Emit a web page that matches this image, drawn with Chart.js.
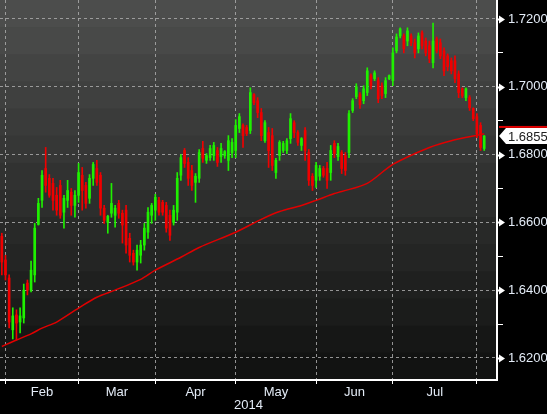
<!DOCTYPE html>
<html>
<head>
<meta charset="utf-8">
<script src="https://cdn.jsdelivr.net/npm/chart.js"></script>
<style>
  html, body { margin: 0; padding: 0; background: #000; }
  #wrap { width: 547px; height: 414px; }
</style>
</head>
<body>
<div id="wrap"><canvas id="c" width="547" height="414"></canvas></div>
<script>
  "use strict";

  // daily bars, 31 Jan 2014 .. 5 Aug 2014 (index = trading day)
  const opens = [
    1.6559, 1.6489, 1.6436, 1.6283, 1.6327, 1.6306, 1.6318, 1.6421, 1.6400, 1.6445,
    1.6594, 1.6665, 1.6759, 1.6730, 1.6715, 1.6680, 1.6709, 1.6630, 1.6665, 1.6689,
    1.6650, 1.6680, 1.6739, 1.6709, 1.6671, 1.6730, 1.6759, 1.6739, 1.6642, 1.6600,
    1.6627, 1.6621, 1.6656, 1.6627, 1.6636, 1.6553, 1.6509, 1.6483, 1.6503, 1.6533,
    1.6571, 1.6621, 1.6636, 1.6665, 1.6659, 1.6650, 1.6621, 1.6600, 1.6630, 1.6739,
    1.6812, 1.6777, 1.6753, 1.6718, 1.6730, 1.6818, 1.6783, 1.6791, 1.6797, 1.6812,
    1.6794, 1.6797, 1.6783, 1.6806, 1.6812, 1.6877, 1.6886, 1.6880, 1.6871, 1.6977,
    1.6959, 1.6924, 1.6841, 1.6865, 1.6856, 1.6747, 1.6797, 1.6812, 1.6812, 1.6847,
    1.6894, 1.6865, 1.6827, 1.6871, 1.6806, 1.6736, 1.6724, 1.6736, 1.6759, 1.6759,
    1.6747, 1.6833, 1.6794, 1.6806, 1.6797, 1.6806, 1.6930, 1.6971, 1.6977, 1.6959,
    1.6983, 1.7033, 1.7024, 1.7018, 1.7003, 1.6980, 1.7024, 1.7018, 1.7106, 1.7150,
    1.7150, 1.7135, 1.7150, 1.7130, 1.7112, 1.7159, 1.7135, 1.7121, 1.7071, 1.7141,
    1.7130, 1.7106, 1.7091, 1.7077, 1.7077, 1.7038, 1.6994, 1.6968, 1.6968, 1.6936,
    1.6912, 1.6886, 1.6818
  ];
  const highs = [
    1.6568, 1.6503, 1.6445, 1.6348, 1.6342, 1.6348, 1.6418, 1.6430, 1.6486, 1.6597,
    1.6671, 1.6753, 1.6821, 1.6741, 1.6730, 1.6703, 1.6724, 1.6680, 1.6724, 1.6700,
    1.6694, 1.6774, 1.6762, 1.6718, 1.6741, 1.6777, 1.6783, 1.6747, 1.6650, 1.6621,
    1.6715, 1.6650, 1.6665, 1.6636, 1.6650, 1.6568, 1.6518, 1.6533, 1.6547, 1.6597,
    1.6644, 1.6656, 1.6683, 1.6674, 1.6665, 1.6659, 1.6636, 1.6650, 1.6747, 1.6800,
    1.6818, 1.6791, 1.6768, 1.6744, 1.6815, 1.6839, 1.6803, 1.6827, 1.6836, 1.6821,
    1.6833, 1.6812, 1.6856, 1.6847, 1.6903, 1.6921, 1.6891, 1.6886, 1.6997, 1.6980,
    1.6968, 1.6936, 1.6900, 1.6880, 1.6877, 1.6789, 1.6841, 1.6839, 1.6847, 1.6921,
    1.6900, 1.6871, 1.6850, 1.6880, 1.6815, 1.6744, 1.6777, 1.6768, 1.6765, 1.6777,
    1.6827, 1.6841, 1.6833, 1.6812, 1.6806, 1.6930, 1.6965, 1.7009, 1.6983, 1.7003,
    1.7056, 1.7038, 1.7047, 1.7027, 1.7012, 1.7027, 1.7035, 1.7115, 1.7156, 1.7174,
    1.7156, 1.7174, 1.7156, 1.7141, 1.7159, 1.7165, 1.7144, 1.7135, 1.7188, 1.7147,
    1.7141, 1.7115, 1.7097, 1.7085, 1.7091, 1.7047, 1.6997, 1.6997, 1.6974, 1.6938,
    1.6921, 1.6894, 1.6856
  ];
  const lows = [
    1.6445, 1.6430, 1.6289, 1.6256, 1.6253, 1.6274, 1.6303, 1.6386, 1.6395, 1.6424,
    1.6592, 1.6644, 1.6689, 1.6674, 1.6636, 1.6621, 1.6612, 1.6583, 1.6644, 1.6621,
    1.6615, 1.6659, 1.6636, 1.6642, 1.6656, 1.6709, 1.6709, 1.6621, 1.6597, 1.6568,
    1.6615, 1.6586, 1.6612, 1.6539, 1.6509, 1.6483, 1.6474, 1.6459, 1.6480, 1.6518,
    1.6553, 1.6597, 1.6606, 1.6621, 1.6621, 1.6571, 1.6547, 1.6592, 1.6606, 1.6724,
    1.6762, 1.6709, 1.6694, 1.6659, 1.6718, 1.6777, 1.6774, 1.6783, 1.6783, 1.6765,
    1.6777, 1.6789, 1.6753, 1.6791, 1.6791, 1.6865, 1.6821, 1.6856, 1.6862, 1.6947,
    1.6909, 1.6841, 1.6836, 1.6762, 1.6753, 1.6730, 1.6783, 1.6806, 1.6803, 1.6833,
    1.6850, 1.6827, 1.6812, 1.6783, 1.6709, 1.6694, 1.6703, 1.6724, 1.6733, 1.6700,
    1.6724, 1.6791, 1.6783, 1.6744, 1.6739, 1.6791, 1.6924, 1.6965, 1.6936, 1.6950,
    1.6974, 1.6994, 1.7018, 1.6953, 1.6965, 1.6968, 1.7021, 1.7003, 1.7100, 1.7144,
    1.7100, 1.7121, 1.7121, 1.7085, 1.7100, 1.7112, 1.7091, 1.7071, 1.7056, 1.7100,
    1.7083, 1.7033, 1.7047, 1.7038, 1.7012, 1.6968, 1.6968, 1.6959, 1.6930, 1.6900,
    1.6850, 1.6812, 1.6812
  ];
  const closes = [
    1.6483, 1.6445, 1.6306, 1.6324, 1.6303, 1.6324, 1.6400, 1.6400, 1.6459, 1.6583,
    1.6656, 1.6739, 1.6709, 1.6680, 1.6665, 1.6636, 1.6621, 1.6671, 1.6694, 1.6650,
    1.6680, 1.6747, 1.6694, 1.6656, 1.6730, 1.6771, 1.6718, 1.6642, 1.6606, 1.6618,
    1.6656, 1.6642, 1.6627, 1.6592, 1.6533, 1.6503, 1.6483, 1.6518, 1.6533, 1.6583,
    1.6630, 1.6650, 1.6674, 1.6630, 1.6630, 1.6583, 1.6562, 1.6636, 1.6730, 1.6791,
    1.6774, 1.6730, 1.6709, 1.6736, 1.6806, 1.6789, 1.6797, 1.6818, 1.6827, 1.6777,
    1.6818, 1.6809, 1.6841, 1.6836, 1.6886, 1.6912, 1.6856, 1.6862, 1.6983, 1.6953,
    1.6924, 1.6856, 1.6894, 1.6812, 1.6768, 1.6783, 1.6836, 1.6833, 1.6841, 1.6906,
    1.6865, 1.6836, 1.6847, 1.6812, 1.6724, 1.6709, 1.6768, 1.6759, 1.6739, 1.6724,
    1.6812, 1.6803, 1.6824, 1.6759, 1.6753, 1.6921, 1.6959, 1.7000, 1.6947, 1.6994,
    1.7047, 1.7003, 1.7041, 1.6965, 1.6974, 1.7018, 1.7033, 1.7100, 1.7147, 1.7171,
    1.7112, 1.7165, 1.7130, 1.7100, 1.7150, 1.7121, 1.7100, 1.7083, 1.7135, 1.7106,
    1.7091, 1.7047, 1.7059, 1.7047, 1.7024, 1.6983, 1.6974, 1.6994, 1.6938, 1.6906,
    1.6862, 1.6821, 1.6855
  ];

  // moving average, read at a few bars
  const maIdx = [0, 4, 8, 11, 15, 21, 26, 31, 38, 42, 49, 54, 64, 71, 76, 82, 86, 91, 93, 100, 107, 117, 123, 131, 132];
  const maVal = [
    1.6234, 1.6253, 1.6271, 1.6288, 1.6306, 1.6347, 1.6379, 1.6400, 1.6432, 1.6459,
    1.6497, 1.6526, 1.6571, 1.6609, 1.6632, 1.6650, 1.6665, 1.6685, 1.6691, 1.6715,
    1.6771, 1.6821, 1.6841, 1.6859, 1.6861
  ];

  const monthNames = ["Feb", "Mar", "Apr", "May", "Jun", "Jul"];
  const monthStarts = [1, 21, 42, 64, 86, 107, 130];
  const yearLabel = "2014";
  const priceTicks = [1.62, 1.63, 1.64, 1.65, 1.66, 1.67, 1.68, 1.69, 1.70, 1.71, 1.72];
  const lastPrice = closes[closes.length - 1];

  const UP = "#1ff000";
  const DOWN = "#f00000";
  const TXT = "#e4ecf7";
  const GRID = "rgba(170,170,170,0.85)";
  const FONT = { family: "Liberation Sans", size: 13 };

  const idx = opens.map((_, i) => i);
  const barColor = idx.map((i) => (closes[i] >= opens[i] ? UP : DOWN));

  const monthMids = monthNames.map((_, k) => (monthStarts[k] + monthStarts[k + 1]) / 2);
  const isStart = (v) => monthStarts.some((s) => Math.abs(s - v) < 1e-6);
  const isMajor = (v) => Math.round(v * 100) % 2 === 0;

  const backdrop = {
    id: "backdrop",
    beforeDraw(chart) {
      const { ctx, chartArea: a } = chart;
      ctx.save();
      ctx.fillStyle = "#000";
      ctx.fillRect(0, 0, chart.width, chart.height);
      const bands = 14;
      const h = (a.bottom - a.top) / bands;
      for (let i = 0; i < bands; i++) {
        const t = i / (bands - 1);
        const c = Math.round(76 - t * 58);
        ctx.fillStyle = "rgb(" + c + "," + (c + 1) + "," + c + ")";
        ctx.fillRect(a.left, a.top + i * h, a.right - a.left, h + 1);
      }
      ctx.restore();
    },
  };

  const axisMarks = {
    id: "axisMarks",
    afterDraw(chart) {
      const { ctx, chartArea: a } = chart;
      const ys = chart.scales.y;
      ctx.save();
      ctx.fillStyle = "#fff";
      priceTicks.filter(isMajor).forEach((v) => {
        const y = Math.round(ys.getPixelForValue(v)) + 0.5;
        ctx.beginPath();
        ctx.moveTo(a.right, y - 1);
        ctx.lineTo(a.right + 2, y - 1);
        ctx.lineTo(a.right + 2, y - 4);
        ctx.lineTo(a.right + 8, y);
        ctx.lineTo(a.right + 2, y + 4);
        ctx.lineTo(a.right + 2, y + 1);
        ctx.lineTo(a.right, y + 1);
        ctx.closePath();
        ctx.fill();
      });

      // last price flag
      const y = ys.getPixelForValue(lastPrice);
      const x0 = a.right + 2;
      ctx.fillStyle = "#e00000";
      ctx.fillRect(x0, y - 10, chart.width - x0, 2);
      ctx.fillStyle = "#fff";
      ctx.beginPath();
      ctx.moveTo(x0, y);
      ctx.lineTo(x0 + 7, y - 8);
      ctx.lineTo(chart.width, y - 8);
      ctx.lineTo(chart.width, y + 8);
      ctx.lineTo(x0 + 7, y + 8);
      ctx.closePath();
      ctx.fill();
      ctx.fillStyle = "#202020";
      ctx.font = FONT.size + "px " + FONT.family;
      ctx.textBaseline = "middle";
      ctx.textAlign = "left";
      ctx.fillText(lastPrice.toFixed(4), a.right + 11, y + 1);
      ctx.restore();
    },
  };

  new Chart(document.getElementById("c"), {
    type: "bar",
    data: {
      datasets: [
        {
          type: "line",
          label: "MA",
          data: maIdx.map((v, k) => ({ x: v, y: maVal[k] })),
          borderColor: "#e00000",
          borderWidth: 1.5,
          pointRadius: 0,
          tension: 0.3,
          order: 0,
        },
        {
          label: "body",
          data: idx.map((i) => ({ x: i, y: [opens[i], closes[i]] })),
          backgroundColor: barColor,
          barThickness: 2,
          grouped: false,
          order: 1,
        },
        {
          label: "range",
          data: idx.map((i) => ({ x: i, y: [lows[i], highs[i]] })),
          backgroundColor: barColor,
          barThickness: 1,
          grouped: false,
          order: 2,
        },
      ],
    },
    options: {
      responsive: false,
      animation: false,
      devicePixelRatio: 1,
      layout: { padding: 0 },
      plugins: { legend: { display: false }, tooltip: { enabled: false } },
      scales: {
        x: {
          type: "linear",
          min: -0.5,
          max: 135.5,
          offset: false,
          afterBuildTicks: (s) => {
            s.ticks = monthStarts.concat(monthMids).sort((p, q) => p - q).map((v) => ({ value: v }));
          },
          afterFit: (s) => {
            s.height = 34;
            s.paddingLeft = 0;
            s.paddingRight = 0;
          },
          ticks: {
            autoSkip: false,
            maxRotation: 0,
            color: TXT,
            font: FONT,
            padding: 1,
            callback: (v) => {
              const k = monthMids.indexOf(v);
              return k >= 0 ? monthNames[k] : "";
            },
          },
          grid: {
            offset: false,
            color: (c) => (c.tick && isStart(c.tick.value) ? GRID : "transparent"),
            lineWidth: 1,
            tickLength: 4,
            tickColor: (c) => (c.tick && isStart(c.tick.value) ? "#fff" : "transparent"),
            tickWidth: 1,
          },
          border: { color: "#fff", width: 2, dash: [3, 3] },
          title: {
            display: true,
            text: yearLabel,
            color: TXT,
            font: FONT,
            padding: { top: 0, bottom: 1 },
          },
        },
        y: {
          position: "right",
          min: 1.6135,
          max: 1.7256,
          afterBuildTicks: (s) => {
            s.ticks = priceTicks.map((v) => ({ value: v }));
          },
          afterFit: (s) => {
            s.width = 50;
            s.paddingTop = 0;
            s.paddingBottom = 0;
          },
          ticks: {
            color: TXT,
            font: FONT,
            padding: 5,
            callback: (v) => (isMajor(v) ? v.toFixed(4) : ""),
          },
          grid: {
            color: (c) => (c.tick && isMajor(c.tick.value) ? GRID : "transparent"),
            lineWidth: 1,
            tickLength: 6,
            tickColor: (c) => (c.tick && isMajor(c.tick.value) ? "transparent" : "#fff"),
            tickWidth: 1,
          },
          border: { color: "#fff", width: 2, dash: [3, 3] },
        },
      },
    },
    plugins: [backdrop, axisMarks],
  });
</script>
</body>
</html>
